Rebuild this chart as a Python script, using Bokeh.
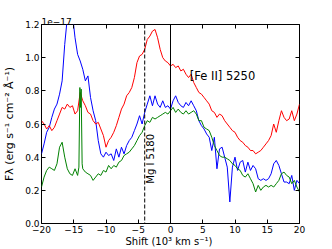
import math
from bokeh.plotting import figure
from bokeh.models import Range1d, LinearAxis, FixedTicker, CustomJSTickFormatter, Span, Label, Title
from bokeh.embed import file_html
from bokeh.resources import INLINE

# ---- data (flux in units of 1e-17 erg s^-1 cm^-2 A^-1) ----
shift = [-20.0, -19.6, -19.2, -18.8, -18.4, -18.0, -17.6, -17.2, -16.8, -16.4,
         -16.0, -15.6, -15.2, -14.8, -14.4, -14.0, -13.6, -13.2, -12.8, -12.4,
         -12.0, -11.6, -11.2, -10.8, -10.4, -10.0, -9.6, -9.2, -8.8, -8.4,
         -8.0, -7.6, -7.2, -6.8, -6.4, -6.0, -5.6, -5.2, -4.8, -4.4,
         -4.0, -3.6, -3.2, -2.8, -2.4, -2.0, -1.6, -1.2, -0.8, -0.4,
         0.0, 0.4, 0.8, 1.2, 1.6, 2.0, 2.4, 2.8, 3.2, 3.6,
         4.0, 4.4, 4.8, 5.2, 5.6, 6.0, 6.4, 6.8, 7.2, 7.6,
         8.0, 8.4, 8.8, 9.2, 9.6, 10.0, 10.4, 10.8, 11.2, 11.6,
         12.0, 12.4, 12.8, 13.2, 13.6, 14.0, 14.4, 14.8, 15.2, 15.6,
         16.0, 16.4, 16.8, 17.2, 17.6, 18.0, 18.4, 18.8, 19.2, 19.6, 20.0]

flux_red = [0.62, 0.60, 0.57, 0.59, 0.56, 0.58, 0.62, 0.66, 0.70, 0.69,
            0.72, 0.70, 0.71, 0.66, 0.68, 0.79, 0.74, 0.71, 0.67, 0.66,
            0.62, 0.60, 0.61, 0.57, 0.53, 0.46, 0.50, 0.52, 0.55, 0.59,
            0.64, 0.69, 0.72, 0.77, 0.79, 0.82, 0.88, 0.97, 1.01, 1.02,
            1.05, 1.11, 1.13, 1.16, 1.17, 1.12, 1.05, 1.00, 0.98, 0.97,
            0.95, 0.96, 0.94, 0.95, 0.92, 0.93, 0.90, 0.88, 0.90, 0.85,
            0.82, 0.79, 0.78, 0.76, 0.74, 0.72, 0.68, 0.67, 0.64, 0.66,
            0.65, 0.62, 0.60, 0.58, 0.56, 0.55, 0.52, 0.50, 0.49, 0.47,
            0.46, 0.44, 0.44, 0.42, 0.43, 0.44, 0.46, 0.48, 0.50, 0.53,
            0.60, 0.55, 0.62, 0.68, 0.64, 0.62, 0.63, 0.68, 0.62, 0.66, 0.72]

flux_blue = [0.42, 0.48, 0.55, 0.58, 0.64, 0.69, 0.72, 0.78, 0.86, 1.08,
             1.24, 1.32, 1.26, 1.12, 1.02, 0.98, 0.93, 0.86, 0.89, 0.76,
             0.68, 0.62, 0.50, 0.42, 0.40, 0.43, 0.41, 0.42, 0.38, 0.45,
             0.40, 0.46, 0.42, 0.47, 0.50, 0.52, 0.56, 0.60, 0.65, 0.60,
             0.67, 0.72, 0.77, 0.71, 0.77, 0.72, 0.70, 0.74, 0.70, 0.71,
             0.69, 0.74, 0.77, 0.73, 0.71, 0.70, 0.73, 0.71, 0.74, 0.71,
             0.68, 0.62, 0.59, 0.57, 0.54, 0.52, 0.44, 0.52, 0.33, 0.45,
             0.46, 0.40, 0.34, 0.13, 0.34, 0.40, 0.32, 0.37, 0.38, 0.31,
             0.37, 0.32, 0.35, 0.33, 0.27, 0.26, 0.27, 0.26, 0.27, 0.30,
             0.36, 0.38, 0.35, 0.30, 0.25, 0.25, 0.24, 0.29, 0.20, 0.26, 0.24]

shift_green = [-20.0, -19.6, -19.2, -18.8, -18.4, -18.0, -17.6, -17.2, -16.8, -16.4,
               -16.0, -15.6, -15.2, -14.8, -14.4, -14.2, -14.05, -13.95, -13.85, -13.7,
               -13.6, -13.2, -12.8, -12.4,
               -12.0, -11.6, -11.2, -10.8, -10.4, -10.0, -9.6, -9.2, -8.8, -8.4,
               -8.0, -7.6, -7.2, -6.8, -6.4, -6.0, -5.6, -5.2, -4.8, -4.4,
               -4.0, -3.6, -3.2, -2.8, -2.4, -2.0, -1.6, -1.2, -0.8, -0.4,
               0.0, 0.4, 0.8, 1.2, 1.6, 2.0, 2.4, 2.8, 3.2, 3.6,
               4.0, 4.4, 4.8, 5.2, 5.6, 6.0, 6.4, 6.8, 7.2, 7.6,
               8.0, 8.4, 8.8, 9.2, 9.6, 10.0, 10.4, 10.8, 11.2, 11.6,
               12.0, 12.4, 12.8, 13.2, 13.6, 14.0, 14.4, 14.8, 15.2, 15.6,
               16.0, 16.4, 16.8, 17.2, 17.6, 18.0, 18.4, 18.8, 19.2, 19.6, 20.0]

flux_green = [0.22, 0.28, 0.32, 0.34, 0.33, 0.32, 0.36, 0.46, 0.49, 0.40,
              0.33, 0.30, 0.29, 0.33, 0.29, 0.34, 0.82, 0.70, 0.81, 0.36,
              0.33, 0.31, 0.30, 0.29,
              0.26, 0.28, 0.30, 0.29, 0.32, 0.31, 0.35, 0.33, 0.35, 0.34,
              0.37, 0.38, 0.41, 0.42, 0.43, 0.45, 0.47, 0.50, 0.53, 0.55,
              0.59, 0.62, 0.61, 0.64, 0.63, 0.64, 0.65, 0.66, 0.67, 0.66,
              0.68, 0.70, 0.67, 0.69, 0.67, 0.66, 0.68, 0.66, 0.67, 0.68,
              0.66, 0.62, 0.62, 0.58, 0.57, 0.56, 0.52, 0.47, 0.44, 0.41,
              0.40, 0.40, 0.39, 0.38, 0.36, 0.35, 0.33, 0.32, 0.29, 0.28,
              0.30, 0.27, 0.24, 0.19, 0.23, 0.20, 0.22, 0.23, 0.22, 0.23,
              0.22, 0.24, 0.26, 0.30, 0.31, 0.29, 0.28, 0.24, 0.26, 0.22, 0.19]

x_ticks = [-20, -15, -10, -5, 0, 5, 10, 15, 20]
y_ticks = [0.0, 0.2, 0.4, 0.6, 0.8, 1.0, 1.2]

rest_wavelength = 5250.0   # [Fe II] 5250
mg_wavelength = 5180.0     # Mg I 5180
c_kms = 299792.458
mg_shift = (mg_wavelength - rest_wavelength) / rest_wavelength * c_kms / 1000.0

FONT = "DejaVu Sans"

p = figure(frame_width=258, frame_height=199, output_backend="svg", toolbar_location=None,
           x_range=Range1d(-20, 20), y_range=Range1d(0, 1.2),
           min_border_left=41, min_border_right=33, min_border_top=24, min_border_bottom=26,
           x_axis_location=None, y_axis_location=None)
p.grid.visible = False
p.outline_line_color = "black"
p.outline_line_width = 1
p.background_fill_color = "white"
p.border_fill_color = "white"

xfmt = CustomJSTickFormatter(code="return tick.toString().replace('-', '\u2212');")
yfmt = CustomJSTickFormatter(code="return tick.toFixed(1);")
blank = CustomJSTickFormatter(code="return '';")

def style(ax, fmt):
    ax.formatter = fmt
    ax.axis_line_color = None
    ax.major_tick_in = 4
    ax.major_tick_out = 0
    ax.minor_tick_in = 0
    ax.minor_tick_out = 0
    ax.major_tick_line_color = "black"
    ax.major_label_text_font = FONT
    ax.major_label_text_font_size = "9px"
    ax.major_label_text_color = "black"
    ax.axis_label_text_font = FONT
    ax.axis_label_text_font_style = "normal"
    ax.axis_label_text_color = "black"

bx = LinearAxis(ticker=FixedTicker(ticks=x_ticks))
style(bx, xfmt)
bx.major_label_standoff = 2
bx.axis_label = "Shift (10\u00b3  km s\u207b\u00b9)"
bx.axis_label_standoff = 0
bx.axis_label_text_font_size = "10px"
p.add_layout(bx, "below")

tx = LinearAxis(ticker=FixedTicker(ticks=x_ticks))
style(tx, blank)
tx.major_label_standoff = 0
tx.major_label_text_font_size = "0px"
p.add_layout(tx, "above")

ly = LinearAxis(ticker=FixedTicker(ticks=y_ticks))
style(ly, yfmt)
ly.major_label_standoff = 2
ly.axis_label = "F\u03bb (erg s\u207b\u00b9 cm\u207b\u00b2 \u00c5\u207b\u00b9)"
ly.axis_label_standoff = 6
ly.axis_label_text_font_size = "11px"
p.add_layout(ly, "left")

ry = LinearAxis(ticker=FixedTicker(ticks=y_ticks))
style(ry, blank)
ry.major_label_standoff = 0
ry.major_label_text_font_size = "0px"
p.add_layout(ry, "right")

p.add_layout(Title(text="1e\u221217", align="left", text_font=FONT, text_font_size="9px",
                   text_font_style="normal", text_color="black", offset=0, standoff=0), "above")

p.line(shift, flux_blue, line_color="#0000ff", line_width=1)
p.line(shift, flux_red, line_color="#ff0000", line_width=1)
p.line(shift_green, flux_green, line_color="#008000", line_width=1)

p.add_layout(Span(location=mg_shift, dimension="height", line_color="black",
                  line_width=1, line_dash="4 2"))
p.add_layout(Span(location=0, dimension="height", line_color="black", line_width=1))

p.add_layout(Label(x=mg_shift, y=0.24, text="Mg I 5180", angle=math.pi / 2,
                   text_align="left", text_baseline="top", x_offset=0,
                   text_font=FONT, text_font_size="10px", text_color="black"))
p.add_layout(Label(x=3.0, y=0.89, text="[Fe II] 5250", text_align="left",
                   text_baseline="alphabetic", text_font=FONT,
                   text_font_size="11.5px", text_color="black"))

open("out.html", "w").write(file_html(p, INLINE))
